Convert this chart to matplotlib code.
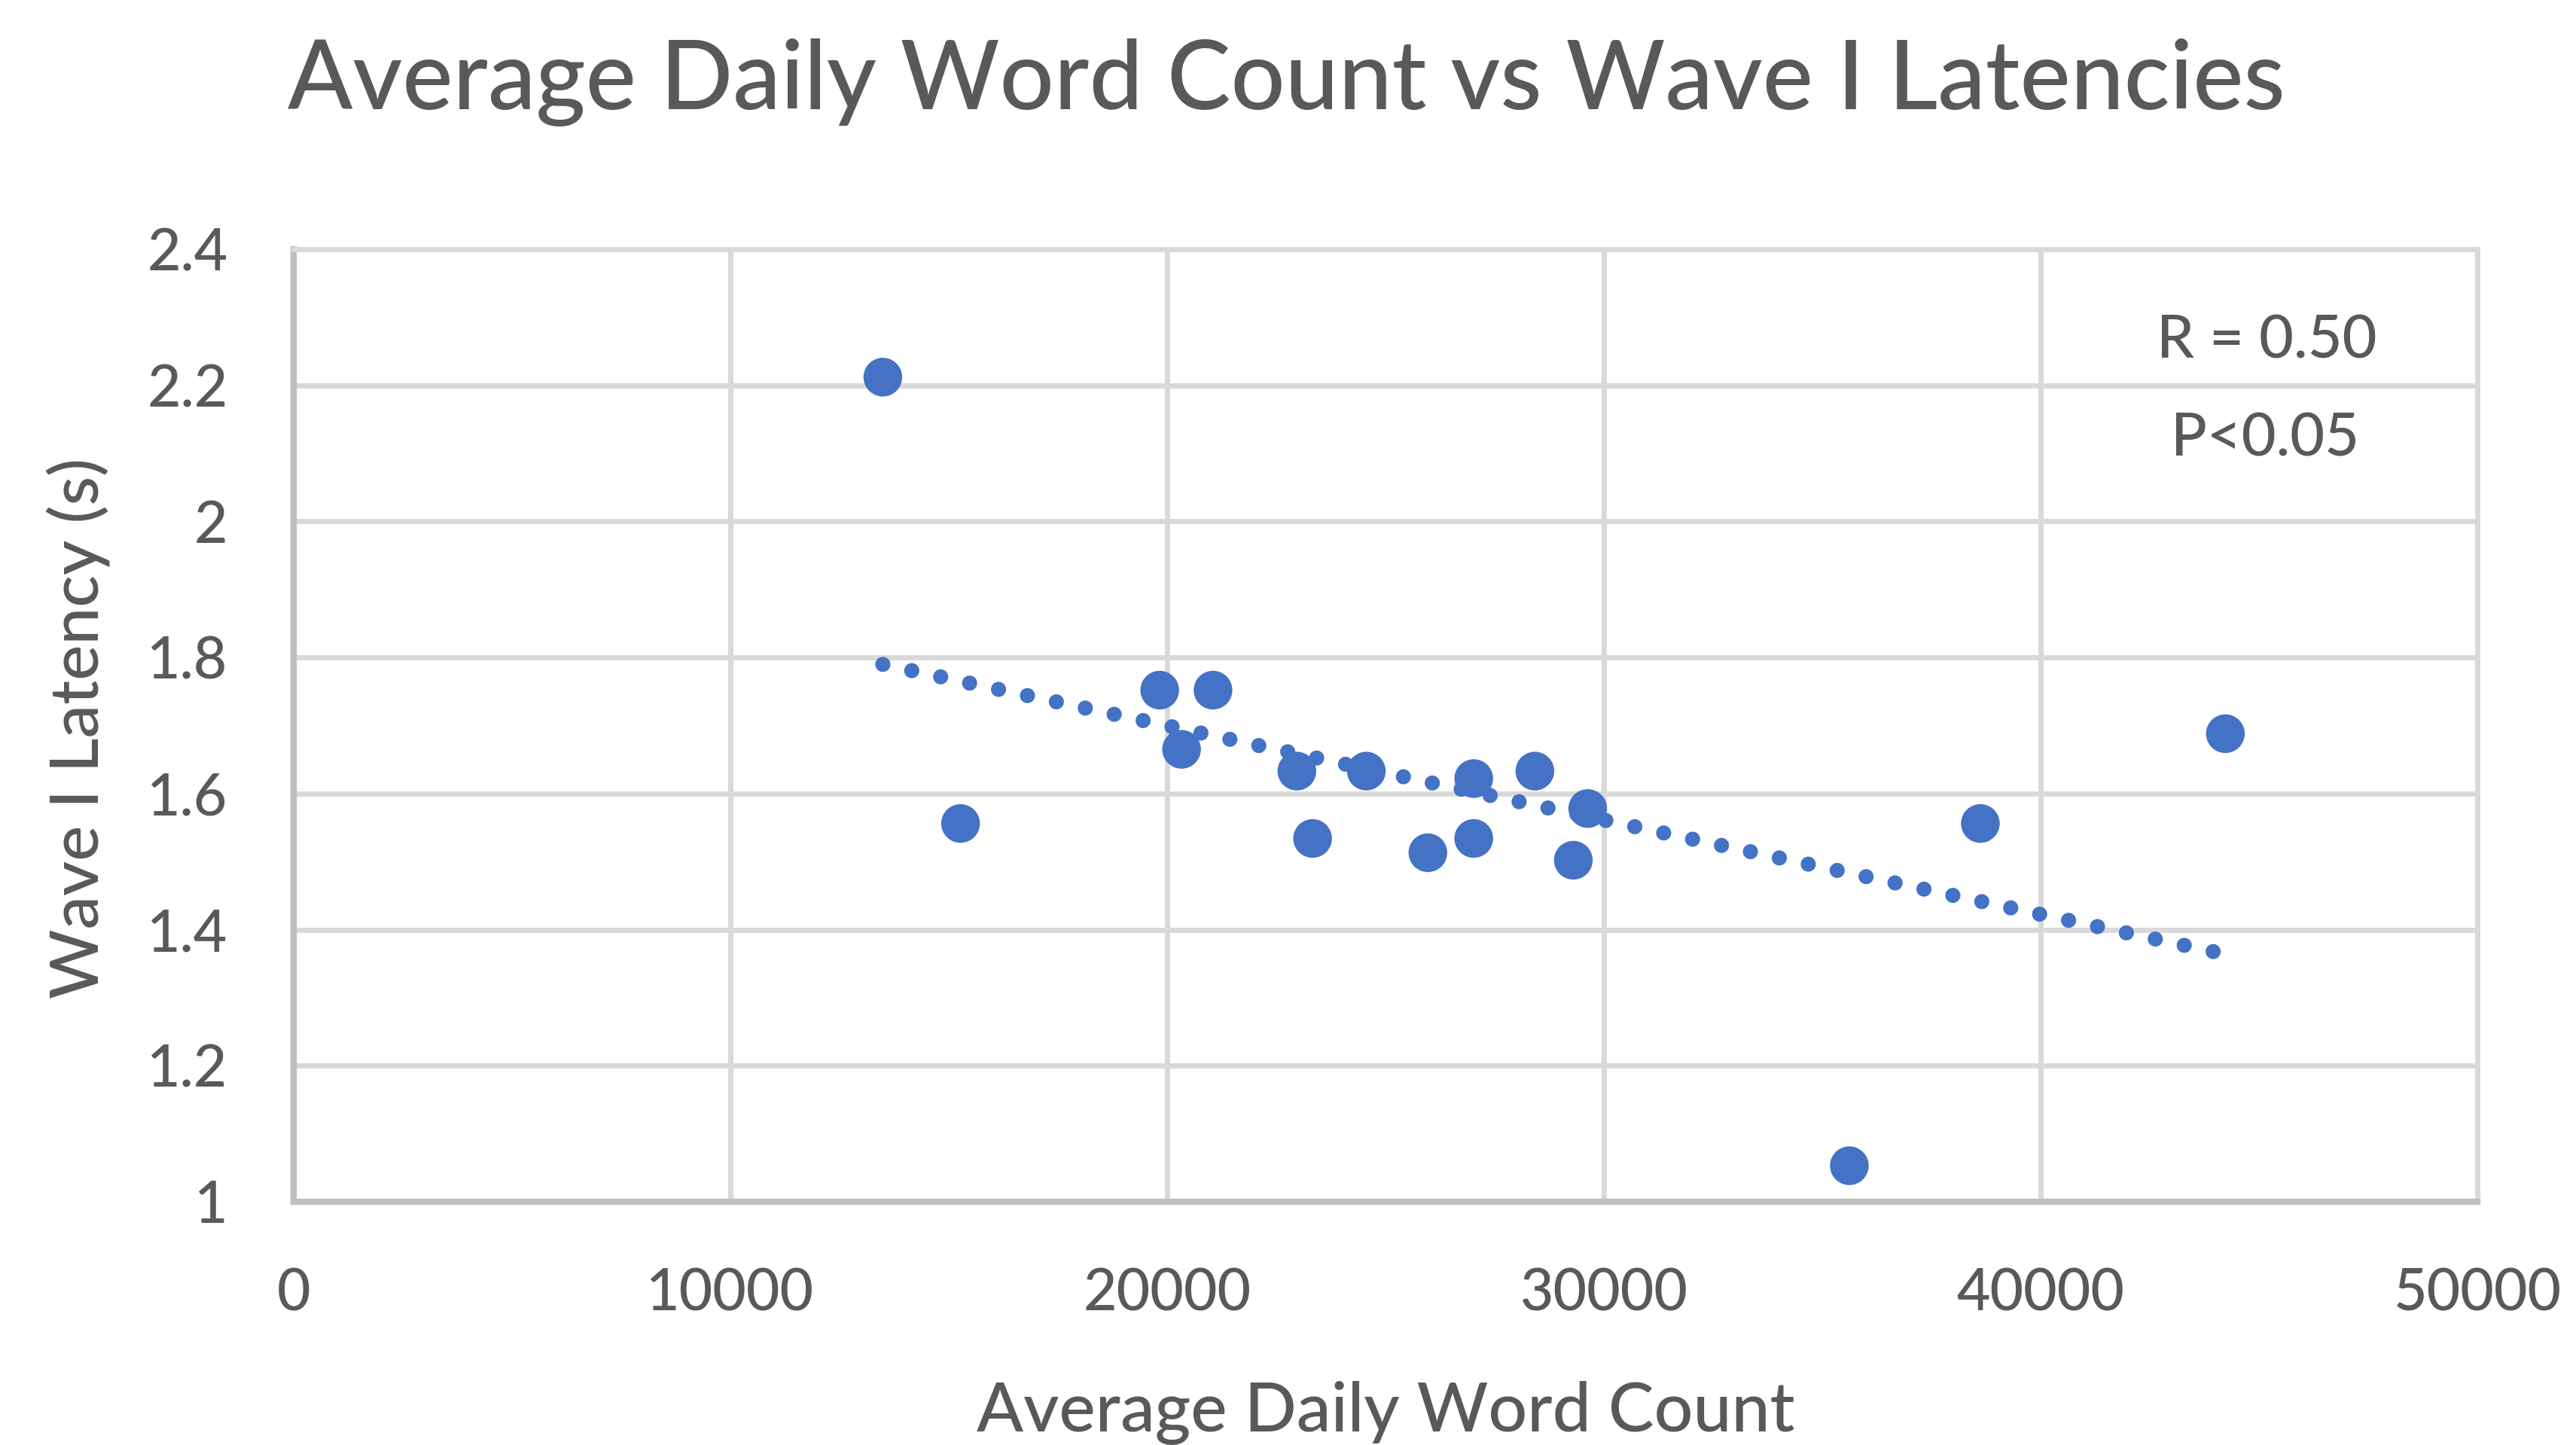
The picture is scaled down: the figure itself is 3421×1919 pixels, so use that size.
import numpy as np
import matplotlib
matplotlib.use("Agg")
import matplotlib.pyplot as plt

# Average daily word count per participant and the matching wave I latency (s)
word_count = [13490, 15270, 19830, 21050, 20330, 22970, 23330, 24560, 25970,
              27020, 27020, 28420, 29630, 29300, 35620, 38620, 44230]
latency = [2.212, 1.556, 1.752, 1.752, 1.665, 1.633, 1.534, 1.633, 1.513,
           1.622, 1.534, 1.633, 1.578, 1.502, 1.053, 1.556, 1.688]

x_ticks = [0, 10000, 20000, 30000, 40000, 50000]
y_ticks = [1.0, 1.2, 1.4, 1.6, 1.8, 2.0, 2.2, 2.4]
y_tick_labels = ["1", "1.2", "1.4", "1.6", "1.8", "2", "2.2", "2.4"]

title = "Average Daily Word Count vs Wave I Latencies"
x_label = "Average Daily Word Count"
y_label = "Wave I Latency (s)"
stats_lines = ["R = 0.50", "P<0.05"]

W, H, DPI = 3421, 1919, 100
BLUE = "#4472C4"
TEXT = "#595959"
GRID = "#d9d9d9"
FONT = ["Lato", "DejaVu Sans"]
WEIGHT = "medium"

plt.rcParams["font.family"] = FONT
plt.rcParams["font.weight"] = WEIGHT

fig = plt.figure(figsize=(W / DPI, H / DPI), dpi=DPI)
fig.patch.set_facecolor("white")
renderer = fig.canvas.get_renderer()


def fit_size(text, width_px, start=40.0):
    """Font size at which `text` renders `width_px` pixels wide."""
    t = fig.text(0, 0, text, fontsize=start, fontweight=WEIGHT)
    w = t.get_window_extent(renderer).width
    t.remove()
    return start * width_px / w


left, right, top, bottom = 390, 3290, 331, 1596
ax = fig.add_axes([left / W, 1 - bottom / H, (right - left) / W, (bottom - top) / H])

ax.set_xlim(0, 50000)
ax.set_ylim(1.0, 2.4)
ax.set_xticks(x_ticks)
ax.set_xticklabels([str(v) for v in x_ticks])
ax.set_yticks(y_ticks)
ax.set_yticklabels(y_tick_labels)

tick_fs = fit_size("20000", 223)
ax.tick_params(length=0, pad=63, labelsize=tick_fs, labelcolor=TEXT)
for lab in ax.get_xticklabels() + ax.get_yticklabels():
    lab.set_fontweight(WEIGHT)

ax.grid(True, color=GRID, linewidth=5, zorder=0)
ax.set_axisbelow(True)
for side in ("top", "right"):
    ax.spines[side].set_color(GRID)
    ax.spines[side].set_linewidth(5)
for side in ("left", "bottom"):
    ax.spines[side].set_color("#bfbfbf")
    ax.spines[side].set_linewidth(6)

# data points
ax.scatter(word_count, latency, s=37 ** 2, color=BLUE, edgecolors="none", zorder=3)

# linear trendline across the data range
xs = np.asarray(word_count, dtype=float)
ys = np.asarray(latency, dtype=float)
slope, intercept = np.polyfit(xs, ys, 1)
tx = np.array([xs.min(), xs.max()])
trend, = ax.plot(tx, slope * tx + intercept, color=BLUE, linewidth=14.5,
                 dash_capstyle="round", zorder=4)
trend.set_dashes((0.001, 1.95))

# texts
fig.text(1708 / W, 1 - 145 / H, title, fontsize=fit_size(title, 2649),
         color=TEXT, ha="center", va="baseline")
fig.text(1840 / W, 1 - 1900 / H, x_label, fontsize=fit_size(x_label, 1085),
         color=TEXT, ha="center", va="baseline")
fig.text(104 / W, 1 - 967 / H, y_label, fontsize=fit_size(y_label, 717),
         color=TEXT, ha="center", va="center", rotation=90)

stat_fs = fit_size(stats_lines[0], 292)
fig.text(3010 / W, 1 - 454 / H, stats_lines[0], fontsize=stat_fs,
         color=TEXT, ha="center", va="center")
fig.text(3008 / W, 1 - 583 / H, stats_lines[1], fontsize=stat_fs,
         color=TEXT, ha="center", va="center")

fig.savefig("out.png", dpi=DPI, facecolor="white")
